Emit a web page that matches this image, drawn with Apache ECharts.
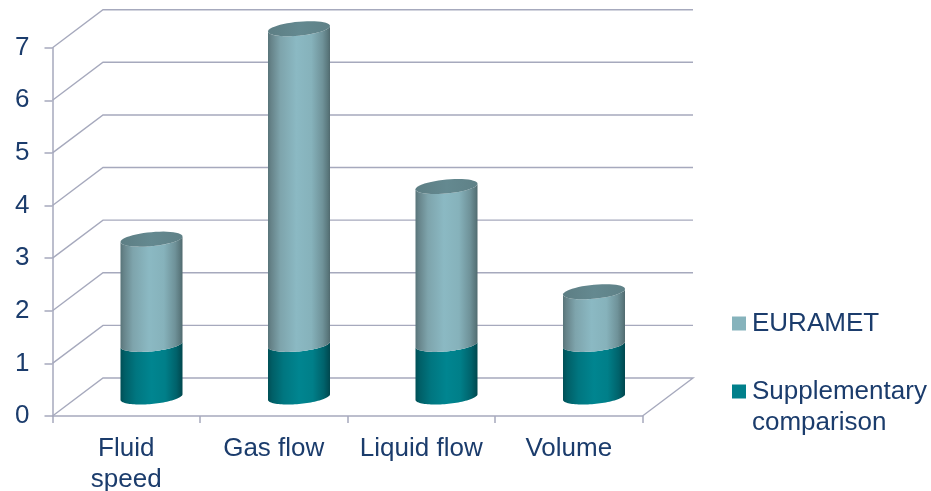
<!DOCTYPE html>
<html><head><meta charset="utf-8">
<style>html,body{margin:0;padding:0;background:#fff}#c{width:931px;height:491px}</style>
<script src="https://cdn.jsdelivr.net/npm/echarts@6/dist/echarts.min.js"></script>
</head><body><div id="c"></div>
<script>
const categories = ['Fluid\nspeed', 'Gas flow', 'Liquid flow', 'Volume'];
const supplementary = [1, 1, 1, 1];
const euramet = [2, 6, 3, 1];
const yTicks = [0, 1, 2, 3, 4, 5, 6, 7];
const supplementaryName = 'Supplementary comparison';
const eurametName = 'EURAMET';

const DX = 50.5, DY = -38, R = 31, CAP_B = 7, CAP_K = 0.09;
const TEXT = '#1b3c6c', LINE = '#a6a9bd';
const FONT = '"Liberation Sans", Arial, sans-serif';
const grad = stops => new echarts.graphic.LinearGradient(0, 0, 1, 0,
  stops.map(s => ({offset: s[0], color: s[1]})));
const lightFill = () => grad([[0,'#587479'],[.05,'#668389'],[.2,'#7ea4ac'],[.46,'#8bb9c3'],[.7,'#86b2bb'],[.88,'#6f9299'],[.97,'#59767b'],[1,'#50696e']]);
const tealFill = () => grad([[0,'#004f56'],[.07,'#005f67'],[.25,'#007680'],[.5,'#008590'],[.72,'#007f89'],[.9,'#00626b'],[1,'#00474e']]);
const capFill = () => grad([[0,'#5d7e84'],[.5,'#648990'],[1,'#5f8187']]);

function ell(cx, cy, t) {
  return [cx + R * Math.cos(t), cy - R * CAP_K * Math.cos(t) + CAP_B * Math.sin(t)];
}
function arc(cx, cy, from, to) {
  const pts = [], n = 48;
  for (let i = 0; i <= n; i++) pts.push(ell(cx, cy, from + (to - from) * i / n));
  return pts;
}
function cylinder(fill, withCap) {
  return function (params, api) {
    const i = api.value(0);
    const bot = api.coord([i, api.value(1)]);
    const top = api.coord([i, api.value(2)]);
    const cx = bot[0] + DX / 2;
    const by = bot[1] + DY / 2, ty = top[1] + DY / 2;
    const body = arc(cx, by, Math.PI, 0).concat(arc(cx, ty, 0, Math.PI));
    const children = [{type: 'polygon', shape: {points: body}, style: {fill: fill()}}];
    if (withCap) children.push({type: 'polygon', shape: {points: arc(cx, ty, 0, Math.PI * 2)}, style: {fill: capFill()}});
    return {type: 'group', children};
  };
}
function walls(params, api) {
  const v = api.value(1);
  const p = api.coord([0, v]);
  const band = api.size([1, 0])[0];
  const x0 = p[0] - band / 2, y = p[1];
  const x1 = x0 + band * categories.length;
  const pts = [[x0, y], [x0 + DX, y + DY], [x1 + DX, y + DY]];
  if (v === 0) pts.push([x1, y]);
  return {type: 'polyline', shape: {points: pts},
    style: {stroke: LINE, lineWidth: 1.4, fill: null}};
}
const chart = echarts.init(document.getElementById('c'), null, {renderer: 'canvas'});
chart.setOption({
  animation: false,
  backgroundColor: '#ffffff',
  textStyle: {fontFamily: FONT},
  grid: {left: 52.5, right: 288.5, top: 47.7, bottom: 75, outerBoundsMode: 'none'},
  xAxis: {type: 'category', data: categories,
    axisLine: {lineStyle: {color: LINE, width: 1.5}},
    axisTick: {show: true, length: 7, lineStyle: {color: LINE, width: 1.5}},
    axisLabel: {color: TEXT, fontSize: 26, fontFamily: FONT, lineHeight: 31, margin: 17, interval: 0}},
  yAxis: {type: 'value', min: 0, max: 7, interval: 1,
    axisLine: {show: true, lineStyle: {color: LINE, width: 1.5}},
    axisTick: {show: true, length: 8, lineStyle: {color: LINE, width: 1.5}},
    axisLabel: {color: TEXT, fontSize: 26, fontFamily: FONT, margin: 23, padding: [5, 0, 0, 0]},
    splitLine: {show: false}},
  legend: {
    orient: 'vertical', left: 732, top: 308, padding: 0,
    data: [eurametName, supplementaryName],
    icon: 'rect', itemWidth: 14, itemHeight: 14, itemGap: 6,
    selectedMode: false,
    formatter: n => n === supplementaryName ? '\nSupplementary\ncomparison' : n,
    textStyle: {color: TEXT, fontSize: 26, fontFamily: FONT, lineHeight: 31, padding: [0, 0, 0, 1]}
  },
  series: [
    {type: 'custom', name: 'walls', silent: true, renderItem: walls,
      data: yTicks.map(v => [0, v]), encode: {x: 0, y: 1}, z: 1},
    {type: 'custom', name: supplementaryName, silent: true, itemStyle: {color: '#00808b'},
      renderItem: cylinder(tealFill, false), z: 2,
      data: supplementary.map((v, i) => [i, 0, v]), encode: {x: 0, y: [1, 2]}},
    {type: 'custom', name: eurametName, silent: true, itemStyle: {color: '#86b3bc'},
      renderItem: cylinder(lightFill, true), z: 3,
      data: euramet.map((v, i) => [i, supplementary[i], supplementary[i] + v]), encode: {x: 0, y: [1, 2]}}
  ]
});
</script></body></html>
